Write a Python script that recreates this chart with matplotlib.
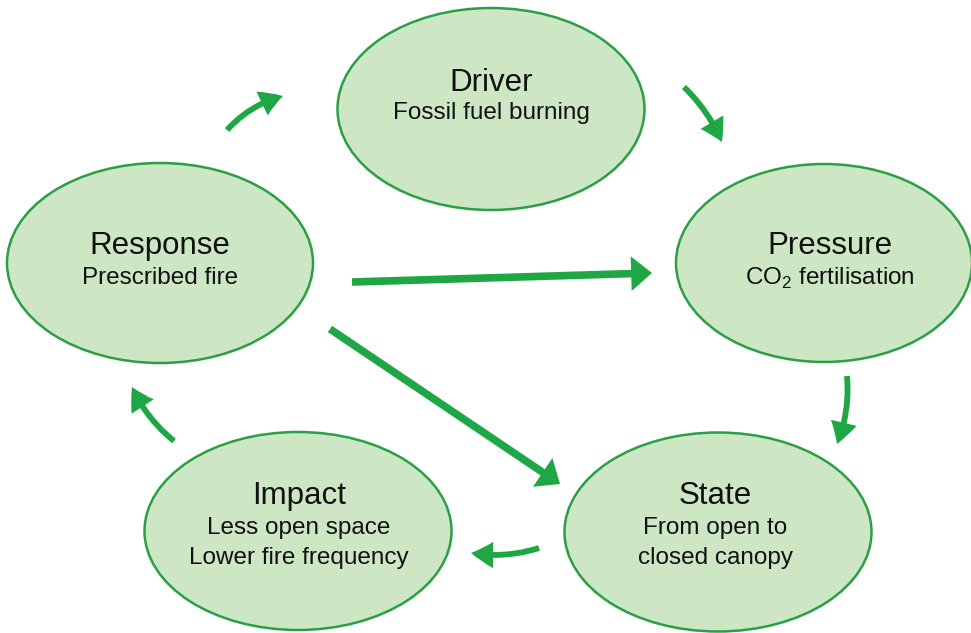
import matplotlib.pyplot as plt
from matplotlib.patches import Ellipse, FancyArrowPatch

plt.rcParams['font.family'] = ['Liberation Sans', 'DejaVu Sans']
plt.rcParams['mathtext.fontset'] = 'custom'
plt.rcParams['mathtext.rm'] = 'Liberation Sans'

# node labels
titles = ["Driver", "Pressure", "State", "Impact", "Response"]
subtitles = [
    ["Fossil fuel burning"],
    [r"CO$_\mathregular{2}$ fertilisation"],
    ["From open to", "closed canopy"],
    ["Less open space", "Lower fire frequency"],
    ["Prescribed fire"],
]

# layout in pixel coords (y down)
centers = [(491, 109), (824, 263), (718, 532), (298, 531), (160, 263)]
sizes = [(307, 202), (296, 198), (307, 199), (307, 198), (306, 200)]
text_x = [491, 830, 715, 299, 160]
text_y = [[82, 113], [245, 278], [495, 528, 558], [495, 528, 558], [245, 278]]

# arrows: (tail, head, curvature, thick)
arrows = [
    ((227, 130), (283, 96), -0.15, False),
    ((684, 87), (722, 142), -0.1, False),
    ((847, 376), (837, 444), -0.12, False),
    ((539, 548), (471, 553), -0.12, False),
    ((174, 441), (132, 387), -0.12, False),
    ((352, 282), (652, 273), 0.0, True),
    ((330, 329), (560, 484), 0.0, True),
]

FILL = '#cde6c3'
EDGE = '#2b9f45'
ARROW = '#1fa645'

fig = plt.figure(figsize=(9.71, 6.33), dpi=100)
ax = fig.add_axes([0, 0, 1, 1])
ax.set_xlim(0, 971)
ax.set_ylim(633, 0)
ax.axis('off')

for (cx, cy), (w, h) in zip(centers, sizes):
    ax.add_patch(Ellipse((cx, cy), w, h, facecolor=FILL, edgecolor=EDGE, lw=1.8))

for i, title in enumerate(titles):
    ys = text_y[i]
    ax.text(text_x[i], ys[0] + 1, title, fontsize=22.5, ha='center', va='center', color='#111111')
    for line, y in zip(subtitles[i], ys[1:]):
        ax.text(text_x[i], y, line, fontsize=17.5, ha='center', va='center', color='#111111')

for tail, head, rad, thick in arrows:
    if thick:
        style = "simple,head_width=2.5,head_length=1.5,tail_width=0.55"
    else:
        style = "simple,head_width=1.9,head_length=1.6,tail_width=0.42"
    ax.add_patch(FancyArrowPatch(tail, head, connectionstyle=f"arc3,rad={rad}",
                                 arrowstyle=style, mutation_scale=10,
                                 color=ARROW, shrinkA=0, shrinkB=0, lw=0))

fig.savefig('out.png', dpi=100)
